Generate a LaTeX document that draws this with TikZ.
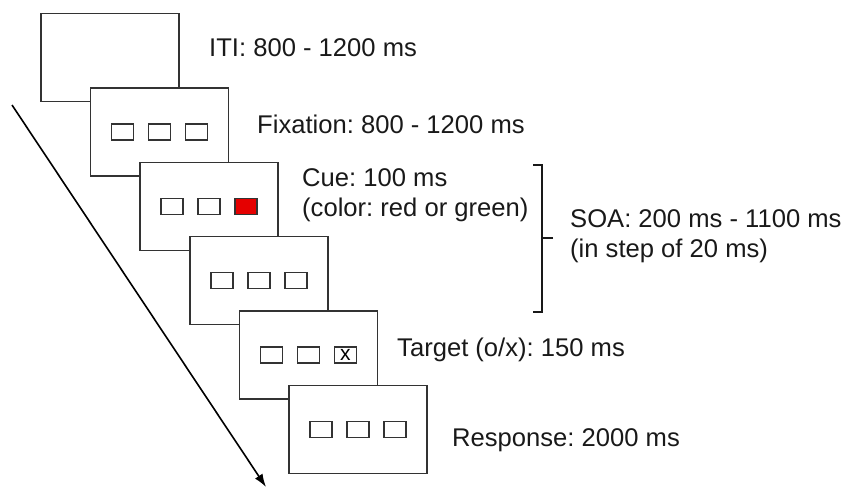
\documentclass[tikz,border=0pt]{standalone}
\usepackage{fontspec}
\setmainfont{Liberation Sans}
\frenchspacing
\usetikzlibrary{positioning,arrows.meta}

\begin{document}
\begin{tikzpicture}[x=1pt,y=-1pt,
	on grid,
	node distance=37pt,
	every node/.style={font=\fontsize{25.6}{29.5}\selectfont},
	screen/.style={draw=black!80,line width=1.5pt,fill=white,minimum width=138pt,minimum height=88pt,inner sep=0pt},
	slot/.style={draw=black!80,line width=1.5pt,fill=white,minimum width=22pt,minimum height=16pt,inner sep=0pt},
	phase/.style={anchor=base west,inner sep=0pt,align=left,text=black!90}]

\useasboundingbox (0,0) rectangle (845,488);

% Time axis
\coordinate (tstart) at (12,105);
\coordinate (tend) at (266,487);
\draw[line width=1.6pt,-{Latex[length=13pt,width=9pt]}] (tstart) -- (tend);

% Screens
\node[screen] (s1) at (110,57.5) {};

\node[screen,
	below right=74.4pt and 49.6pt of s1] (s2) {};
\node[slot] (s2b) at (s2) {};
\node[slot, left=of s2b] (s2a) {};
\node[slot, right=of s2b] (s2c) {};

\node[screen,
	below right=74.4pt and 49.6pt of s2] (s3) {};
\node[slot] (s3b) at (s3) {};
\node[slot, left=of s3b] (s3a) {};
\node[slot, right=of s3b, fill=red!90!black] (s3c) {};

\node[screen,
	below right=74.4pt and 49.6pt of s3] (s4) {};
\node[slot] (s4b) at (s4) {};
\node[slot, left=of s4b] (s4a) {};
\node[slot, right=of s4b] (s4c) {};

\node[screen,
	below right=74.4pt and 49.6pt of s4] (s5) {};
\node[slot] (s5b) at (s5) {};
\node[slot, left=of s5b] (s5a) {};
\node[slot, right=of s5b, font=\fontsize{21}{21}\selectfont] (s5c) {x};

\node[screen,
	below right=74.4pt and 49.6pt of s5] (s6) {};
\node[slot] (s6b) at (s6) {};
\node[slot, left=of s6b] (s6a) {};
\node[slot, right=of s6b] (s6c) {};

% Labels (base = last line)
\node[phase] (iti) at (209,56) {ITI: 800 - 1200 ms};
\node[phase] (fix) at (257,133) {Fixation: 800 - 1200 ms};
\node[phase] (cue) at (302,216) {Cue: 100 ms\\(color: red or green)};
\node[phase] (soa) at (570,257) {SOA: 200 ms - 1100 ms\\(in step of 20 ms)};
\node[phase] (tgt) at (397,356) {Target (o/x): 150 ms};
\node[phase] (resp) at (452,446) {Response: 2000 ms};

% SOA bracket
\coordinate (btop) at (533,165);
\coordinate (bbot) at (533,312);
\coordinate (bmid) at (553,238);
\draw[line width=1.5pt,black!90] (btop) -- ++(9,0) |- (bbot)
	(bmid) -- ++(-11,0);

\end{tikzpicture}
\end{document}
